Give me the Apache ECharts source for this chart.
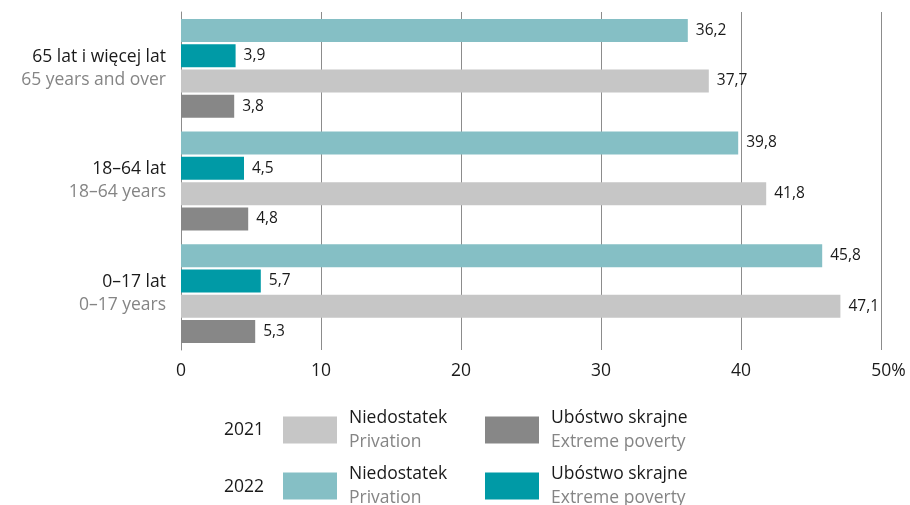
<!DOCTYPE html>
<html>
<head>
<meta charset="utf-8">
<script src="https://cdn.jsdelivr.net/npm/echarts@6/dist/echarts.min.js"></script>
<style>
  html, body { margin: 0; padding: 0; background: #ffffff; }
  #chart { width: 910px; height: 505px; }
</style>
</head>
<body>
<div id="chart"></div>
<script>
// Age groups, listed top to bottom
const ageGroupsPl = ['65 lat i więcej lat', '18–64 lat', '0–17 lat'];
const ageGroupsEn = ['65 years and over', '18–64 years', '0–17 years'];

// Shares of people (%) in each age group
const privation2022 = [36.2, 39.8, 45.8];
const extreme2022   = [3.9, 4.5, 5.7];
const privation2021 = [37.7, 41.8, 47.1];
const extreme2021   = [3.8, 4.8, 5.3];

// Value axis
const xMin = 0, xMax = 50, xStep = 10;

// Legend texts
const years = ['2021', '2022'];
const measurePl = ['Niedostatek', 'Ubóstwo skrajne'];
const measureEn = ['Privation', 'Extreme poverty'];

const FONT = 'Open Sans';
const FS = 17.5;
const C_LIGHT_TEAL = '#85bfc5';
const C_TEAL = '#009aa6';
const C_LIGHT_GREY = '#c6c6c6';
const C_GREY = '#878787';
const C_AXIS = '#8c8c8c';
const C_TEXT = '#1a1a1a';
const C_TEXT_EN = '#858585';

const fmt = v => v.toFixed(1).replace('.', ',');

const seriesDefs = [
  { name: 'Niedostatek 2022', data: privation2022, color: C_LIGHT_TEAL },
  { name: 'Ubóstwo skrajne 2022', data: extreme2022, color: C_TEAL },
  { name: 'Niedostatek 2021', data: privation2021, color: C_LIGHT_GREY },
  { name: 'Ubóstwo skrajne 2021', data: extreme2021, color: C_GREY }
];

const legendLabel = name => {
  const k = name.startsWith('Niedostatek') ? 0 : 1;
  return '{a|' + measurePl[k] + '}\n{b|' + measureEn[k] + '}';
};

const legendRich = {
  a: { fontFamily: FONT, fontSize: FS, color: C_TEXT, lineHeight: 24, padding: [0, 0, 0, 7] },
  b: { fontFamily: FONT, fontSize: FS, color: C_TEXT_EN, lineHeight: 24, padding: [0, 0, 0, 7] }
};

const makeLegend = (name, left, iconTop) => ({
  data: [name],
  left: left, top: iconTop - 6,
  padding: 0,
  orient: 'horizontal',
  itemWidth: 54, itemHeight: 27,
  icon: 'rect',
  selectedMode: false,
  formatter: legendLabel,
  textStyle: { rich: legendRich }
});

const option = {
  animation: false,
  backgroundColor: '#ffffff',
  grid: { left: 181, top: 12, width: 700, height: 338, containLabel: false },
  xAxis: {
    type: 'value',
    min: xMin, max: xMax, interval: xStep,
    axisLine: { show: false },
    axisTick: { show: false },
    splitLine: { show: true, lineStyle: { color: C_AXIS, width: 1 } },
    axisLabel: {
      margin: 12,
      fontFamily: FONT, fontSize: FS, color: C_TEXT,
      formatter: v => v === xMax ? '{pad|}{n|' + v + '}{n|%}' : String(v),
      rich: {
        pad: { width: 15 },
        n: { fontFamily: FONT, fontSize: FS, color: C_TEXT }
      }
    }
  },
  yAxis: {
    type: 'category',
    inverse: true,
    data: ageGroupsPl,
    axisLine: { show: true, lineStyle: { color: C_AXIS, width: 1 } },
    axisTick: { show: false },
    axisLabel: {
      margin: 15,
      formatter: (v, i) => '{a|' + v + '}\n{b|' + ageGroupsEn[i] + '}',
      rich: {
        a: { fontFamily: FONT, fontSize: FS, color: C_TEXT, lineHeight: 23, align: 'right' },
        b: { fontFamily: FONT, fontSize: FS, color: C_TEXT_EN, lineHeight: 23, align: 'right' }
      }
    }
  },
  legend: [
    makeLegend('Niedostatek 2021', 283, 415),
    makeLegend('Ubóstwo skrajne 2021', 485, 415),
    makeLegend('Niedostatek 2022', 283, 471),
    makeLegend('Ubóstwo skrajne 2022', 485, 471)
  ],
  graphic: years.map((y, i) => ({
    type: 'text',
    x: 264,
    y: i === 0 ? 430 : 487,
    style: { text: y, fontFamily: FONT, fontSize: FS, fill: C_TEXT, align: 'right', verticalAlign: 'middle' }
  })),
  series: seriesDefs.map(s => ({
    type: 'bar',
    name: s.name,
    data: s.data,
    barWidth: 23,
    barGap: '10%',
    itemStyle: { color: s.color },
    label: {
      show: true,
      position: 'right',
      distance: 8,
      fontFamily: FONT, fontSize: 15.5, color: C_TEXT,
      formatter: p => fmt(p.value)
    }
  }))
};

const chart = echarts.init(document.getElementById('chart'), null, { renderer: 'canvas' });
chart.setOption(option);
</script>
</body>
</html>
